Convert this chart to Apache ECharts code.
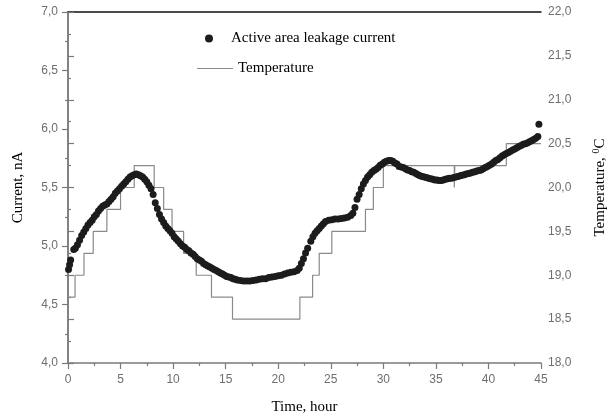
<!DOCTYPE html>
<html>
<head>
<meta charset="utf-8">
<script src="https://cdn.jsdelivr.net/npm/echarts@6/dist/echarts.min.js"></script>
<style>
  html, body { margin: 0; padding: 0; background: #fff; }
  #chart { width: 612px; height: 417px; }
</style>
</head>
<body>
<div id="chart"></div>
<script>
// leakage current, nA
const currentTime = [
  0.05, 0.15, 0.25, 0.55, 0.7, 0.9, 1.1, 1.3, 1.5, 1.7, 1.9, 2.1, 2.3, 2.5, 2.7, 2.9,
  3.1, 3.3, 3.5, 3.7, 3.9, 4.1, 4.3, 4.5, 4.7, 4.9, 5.1, 5.3, 5.5, 5.7, 5.9,
  6.1, 6.3, 6.5, 6.7, 6.9, 7.1, 7.3, 7.5, 7.7, 7.9, 8.1, 8.3, 8.5, 8.7, 8.9,
  9.1, 9.3, 9.5, 9.7, 9.9, 10.1, 10.3, 10.5, 10.7, 10.9, 11.1, 11.3, 11.5, 11.7, 11.9,
  12.1, 12.3, 12.5, 12.7, 12.9, 13.1, 13.3, 13.5, 13.7, 13.9, 14.1, 14.3, 14.5, 14.7, 14.9,
  15.1, 15.3, 15.5, 15.7, 15.9, 16.1, 16.4, 16.7, 17.0, 17.3, 17.6, 17.9,
  18.2, 18.5, 18.8, 19.1, 19.4, 19.7, 20.0, 20.3, 20.6, 20.9, 21.2, 21.5, 21.8,
  22.0, 22.2, 22.4, 22.6, 22.8, 23.1, 23.3, 23.5, 23.7, 23.9, 24.1, 24.3, 24.5, 24.8,
  25.1, 25.4, 25.7, 26.0, 26.3, 26.6, 26.9, 27.1, 27.3, 27.5, 27.7, 27.9,
  28.1, 28.3, 28.5, 28.7, 28.9, 29.1, 29.3, 29.5, 29.7, 29.9,
  30.1, 30.3, 30.5, 30.7, 30.9, 31.1, 31.3, 31.5, 31.7, 31.9,
  32.1, 32.3, 32.5, 32.7, 32.9, 33.1, 33.3, 33.5, 33.7, 33.9,
  34.1, 34.3, 34.5, 34.7, 34.9, 35.1, 35.3, 35.5, 35.7, 35.9,
  36.1, 36.3, 36.5, 36.7, 36.9, 37.1, 37.3, 37.5, 37.7, 37.9,
  38.1, 38.3, 38.5, 38.7, 38.9, 39.1, 39.3, 39.5, 39.7, 39.9,
  40.1, 40.3, 40.5, 40.7, 40.9, 41.1, 41.3, 41.5, 41.7, 41.9,
  42.1, 42.3, 42.5, 42.7, 42.9, 43.1, 43.3, 43.5, 43.7, 43.9,
  44.1, 44.3, 44.5, 44.7, 44.8
]
const currentValue = [
  4.80, 4.84, 4.88, 4.97, 4.98, 5.01, 5.05, 5.09, 5.12, 5.15, 5.18, 5.20, 5.22, 5.25, 5.27, 5.30,
  5.32, 5.34, 5.35, 5.36, 5.38, 5.40, 5.42, 5.45, 5.47, 5.49, 5.51, 5.53, 5.55, 5.57, 5.59,
  5.60, 5.61, 5.615, 5.61, 5.60, 5.59, 5.57, 5.55, 5.52, 5.49, 5.44, 5.37, 5.32, 5.27, 5.23,
  5.20, 5.17, 5.15, 5.13, 5.11, 5.08, 5.06, 5.04, 5.02, 5.00, 4.99, 4.97, 4.96, 4.94, 4.93,
  4.91, 4.89, 4.88, 4.87, 4.85, 4.84, 4.83, 4.82, 4.81, 4.80, 4.79, 4.78, 4.77, 4.76, 4.75,
  4.74, 4.735, 4.73, 4.72, 4.715, 4.71, 4.705, 4.70, 4.70, 4.70, 4.705, 4.71,
  4.715, 4.72, 4.72, 4.73, 4.735, 4.74, 4.745, 4.75, 4.76, 4.77, 4.775, 4.78, 4.79,
  4.81, 4.85, 4.89, 4.94, 4.98, 5.04, 5.08, 5.11, 5.13, 5.15, 5.17, 5.19, 5.21, 5.22,
  5.225, 5.23, 5.23, 5.235, 5.24, 5.245, 5.26, 5.28, 5.33, 5.40, 5.44, 5.49,
  5.53, 5.56, 5.59, 5.61, 5.63, 5.645, 5.655, 5.67, 5.69, 5.70,
  5.715, 5.725, 5.73, 5.73, 5.725, 5.71, 5.70, 5.68, 5.675, 5.67,
  5.66, 5.65, 5.645, 5.635, 5.63, 5.62, 5.61, 5.60, 5.595, 5.59,
  5.585, 5.58, 5.575, 5.57, 5.565, 5.565, 5.56, 5.56, 5.565, 5.57,
  5.575, 5.58, 5.58, 5.585, 5.59, 5.595, 5.60, 5.605, 5.61, 5.615,
  5.62, 5.625, 5.63, 5.635, 5.64, 5.645, 5.65, 5.66, 5.67, 5.68,
  5.69, 5.70, 5.715, 5.73, 5.74, 5.755, 5.77, 5.78, 5.79, 5.80,
  5.81, 5.82, 5.83, 5.84, 5.85, 5.86, 5.87, 5.875, 5.88, 5.89,
  5.90, 5.91, 5.92, 5.935, 6.04
]

// temperature steps: level starts at the given time
const tempTime = [0, 0.67, 1.52, 2.4, 3.7, 5.0, 6.3, 8.2, 9.1, 9.9, 11.0, 12.2, 13.65, 15.65,
  22.06, 23.27, 23.9, 25.1, 28.3, 29.05, 30.0, 36.75, 36.8, 41.7, 45]
const tempLevel = [18.75, 19.0, 19.25, 19.5, 19.75, 20.0, 20.25, 20.0, 19.75, 19.5, 19.25, 19.0, 18.75, 18.5,
  18.75, 19.0, 19.25, 19.5, 19.75, 20.0, 20.25, 20.0, 20.25, 20.5, 20.5]

const axisGray = '#7a7a7a'
const labelGray = '#6e6e6e'
const serif = 'Liberation Serif'
const comma = v => v.toFixed(1).replace('.', ',')

const chart = echarts.init(document.getElementById('chart'))

const valueAxisBase = {
  axisLine: { show: true, lineStyle: { color: axisGray, width: 1.5 } },
  axisTick: { show: true, inside: false, length: 6, lineStyle: { color: axisGray, width: 1.2 } },
  minorTick: { show: true, splitNumber: 2, length: 3, lineStyle: { color: axisGray, width: 1.2 } },
  splitLine: { show: false },
  axisLabel: { color: labelGray, fontFamily: 'Liberation Sans', fontSize: 12 },
  nameTextStyle: { fontFamily: serif, fontSize: 15, color: '#000' }
}

chart.setOption({
  animation: false,
  backgroundColor: '#fff',
  grid: { left: 68, right: 71, top: 12, bottom: 54, containLabel: false, outerBoundsMode: 'none' },
  legend: [
    {
      left: 200, top: 26,
      itemWidth: 34, itemHeight: 8,
      data: [{ name: 'Active area leakage current', icon: 'circle' }],
      textStyle: { fontFamily: serif, fontSize: 15, color: '#000' }
    },
    {
      left: 192, top: 56,
      itemWidth: 36, itemHeight: 1,
      data: [{ name: 'Temperature', icon: 'rect' }],
      itemStyle: { color: '#8a8a8a' },
      textStyle: { fontFamily: serif, fontSize: 15, color: '#000' }
    }
  ],
  xAxis: [
    {
      ...valueAxisBase,
      type: 'value', min: 0, max: 45, interval: 5,
      name: 'Time, hour', nameLocation: 'middle', nameGap: 37,
      axisLabel: { ...valueAxisBase.axisLabel, margin: 11 }
    },
    {
      type: 'value', position: 'top', min: 0, max: 45,
      axisLine: { show: true, lineStyle: { color: '#111', width: 1.5 } },
      axisTick: { show: false }, axisLabel: { show: false }, splitLine: { show: false }
    }
  ],
  yAxis: [
    {
      ...valueAxisBase,
      type: 'value', min: 4, max: 7, interval: 0.5,
      name: 'Current, nA', nameLocation: 'middle', nameGap: 42, nameRotate: 90,
      axisLabel: { ...valueAxisBase.axisLabel, margin: 10, formatter: comma }
    },
    {
      ...valueAxisBase,
      type: 'value', min: 18, max: 22, interval: 0.5, position: 'right',
      name: '{a|Temperature, }{s|0}{a|C}', nameLocation: 'middle', nameGap: 50, nameRotate: 90,
      nameTextStyle: {
        rich: {
          a: { fontFamily: serif, fontSize: 15, color: '#000' },
          s: { fontFamily: serif, fontSize: 10, color: '#000', padding: [0, 0, 8, 0] }
        }
      },
      axisLabel: { ...valueAxisBase.axisLabel, margin: 7, formatter: comma }
    }
  ],
  series: [
    {
      name: 'Temperature',
      type: 'line',
      yAxisIndex: 1,
      step: 'end',
      symbol: 'none',
      data: tempTime.map((t, i) => [t, tempLevel[i]]),
      lineStyle: { color: '#8a8a8a', width: 1.2 },
      itemStyle: { color: '#8a8a8a' },
      z: 2
    },
    {
      name: 'Active area leakage current',
      type: 'scatter',
      yAxisIndex: 0,
      symbolSize: 7,
      data: currentTime.map((t, i) => [t, currentValue[i]]),
      itemStyle: { color: '#1c1c1c', opacity: 1 },
      z: 3
    }
  ]
})
</script>
</body>
</html>
